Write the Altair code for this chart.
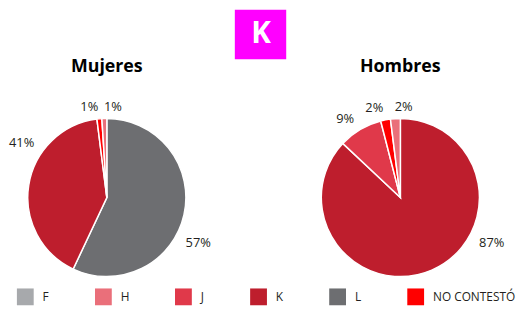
import altair as alt
import pandas as pd

# ---- data ----
categories = ["F", "H", "J", "K", "L", "NO CONTESTÓ"]
colors = ["#a7a9ac", "#ea6f7a", "#e0394a", "#be1e2d", "#6d6e71", "#ff0000"]
genders = ["Mujeres", "Hombres"]
mujeres = [0, 1, 0, 41, 57, 1]
hombres = [0, 2, 9, 87, 0, 2]
slice_order = ["L", "K", "J", "NO CONTESTÓ", "H", "F"]  # clockwise from 12 o'clock
panel_letter = "K"

# ---- derived table (cumulative shares per pie) ----
rows = []
for g, vals in zip(genders, [mujeres, hombres]):
    lookup = dict(zip(categories, vals))
    total = sum(vals)
    cum = 0
    grp = []
    for c in slice_order:
        v = lookup[c]
        if v <= 0:
            continue
        start = cum / total * 100
        cum += v
        end = cum / total * 100
        grp.append(dict(gender=g, cat=c, value=v, start=start, end=end,
                        mid=(start + end) / 2, last=False, label=f"{v}%"))
    grp[-1]["last"] = True
    rows.extend(grp)
slices = pd.DataFrame(rows)
titles = pd.DataFrame({"gender": genders})
header = pd.DataFrame({"letter": [panel_letter]})

FONT = "Open Sans"
TXT = "#231f20"
R = 80

theta_scale = alt.Scale(domain=[0, 100])
xpos = alt.X("gender:N",
             scale=alt.Scale(type="point", domain=genders, range=[99, 396], padding=0),
             axis=None)
ycen = alt.value(190)

arcs = alt.Chart(slices).mark_arc(outerRadius=R, stroke="white", strokeWidth=1.5).encode(
    x=xpos,
    y=ycen,
    theta=alt.Theta("start:Q", stack=None, scale=theta_scale),
    theta2="end:Q",
    color=alt.Color(
        "cat:N",
        scale=alt.Scale(domain=categories, range=colors),
        legend=alt.Legend(
            title=None, orient="none", legendX=8, legendY=282, direction="horizontal",
            symbolType="square", symbolSize=289, symbolStrokeWidth=0, symbolOpacity=1,
            labelOffset=9, columnPadding=46, labelFont=FONT, labelFontSize=12,
            labelColor=TXT, padding=0,
        ),
    ),
    order=alt.Order("start:Q"),
)

# labels: mid-angle, but kept out of the lower part of the circle
label_base = alt.Chart(slices).transform_calculate(
    lab="datum.mid > 25 && datum.mid < 50 ? 100/3 : (datum.mid >= 50 && datum.mid < 85.3 ? 85.3 : datum.mid)"
)
lab_enc = dict(
    x=xpos,
    y=ycen,
    theta=alt.Theta("lab:Q", stack=None, scale=theta_scale),
    text="label:N",
)
labels_left = label_base.transform_filter("datum.lab < 50 || datum.last").mark_text(
    radius=92, align="left", baseline="middle", font=FONT, fontSize=13, color=TXT
).encode(**lab_enc)
labels_right = label_base.transform_filter("!(datum.lab < 50 || datum.last)").mark_text(
    radius=92, align="right", baseline="middle", font=FONT, fontSize=13, color=TXT
).encode(**lab_enc)

pie_titles = alt.Chart(titles).mark_text(
    font=FONT, fontSize=18, fontWeight="bold", color="#000000", baseline="alphabetic"
).encode(x=xpos, y=alt.value(63), text="gender:N")

box = alt.Chart(header).mark_rect(color="#ff00ff").encode(
    x=alt.value(228.5), x2=alt.value(280.5), y=alt.value(0), y2=alt.value(50)
)
letter = alt.Chart(header).mark_text(
    font=FONT, fontSize=30, fontWeight="bold", color="white", baseline="middle", align="center"
).encode(x=alt.value(255), y=alt.value(25), text="letter:N")

chart = alt.layer(arcs, labels_left, labels_right, pie_titles, box, letter).properties(
    width=508, height=300, padding=0
).configure_view(stroke=None)

chart.save("out.html", embed_options={"renderer": "svg", "actions": False})
